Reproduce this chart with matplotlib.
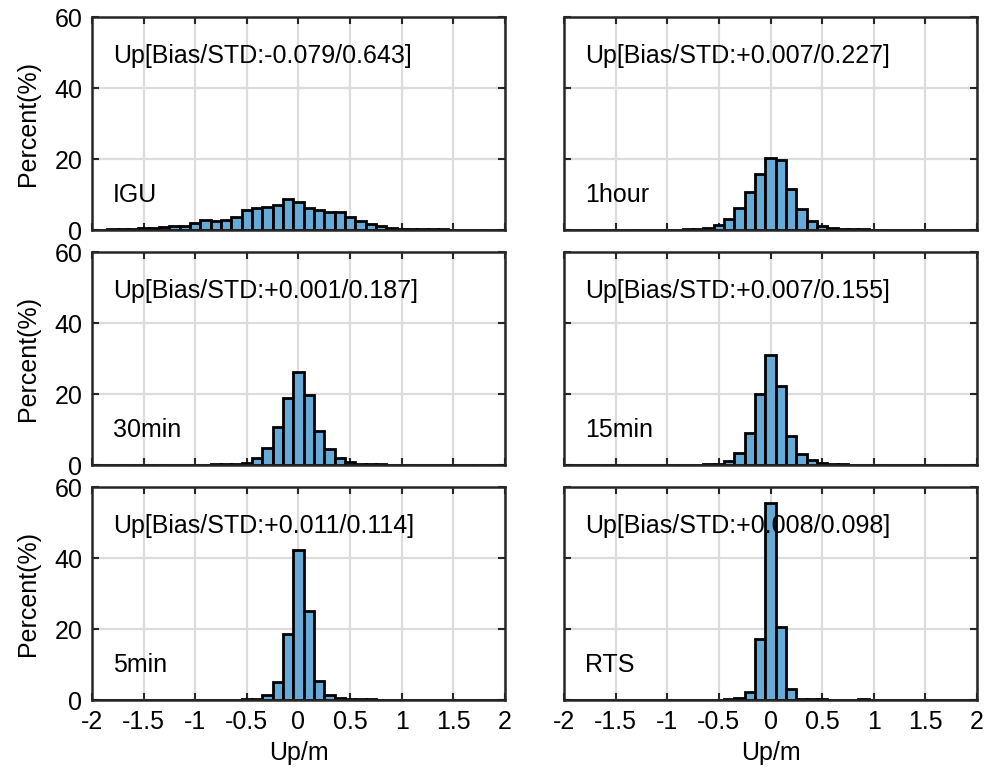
import numpy as np
import matplotlib
matplotlib.use("Agg")
import matplotlib.pyplot as plt

plt.rcParams["font.family"] = ["Liberation Sans", "DejaVu Sans"]
plt.rcParams["axes.unicode_minus"] = False

# bin centres (m), bin width 0.1
bins = [-2.0, -1.9, -1.8, -1.7, -1.6, -1.5, -1.4, -1.3, -1.2, -1.1,
        -1.0, -0.9, -0.8, -0.7, -0.6, -0.5, -0.4, -0.3, -0.2, -0.1,
        0.0, 0.1, 0.2, 0.3, 0.4, 0.5, 0.6, 0.7, 0.8, 0.9,
        1.0, 1.1, 1.2, 1.3, 1.4, 1.5, 1.6, 1.7, 1.8, 1.9, 2.0]

# percent per bin, -2.0 ... 2.0
igu = [0.1, 0.1, 0.2, 0.3, 0.4, 0.5, 0.6, 0.8, 1.0, 1.1,
       1.9, 2.8, 2.4, 2.9, 3.8, 5.6, 6.1, 6.5, 7.1, 8.7,
       7.8, 6.1, 5.6, 5.2, 5.1, 3.6, 2.5, 1.7, 1.0, 0.7,
       0.4, 0.3, 0.25, 0.2, 0.15, 0.1, 0.1, 0.1, 0.1, 0.1, 0.05]
hour1 = [0, 0, 0, 0, 0, 0, 0, 0, 0, 0,
         0, 0.1, 0.2, 0.3, 0.6, 1.4, 3.0, 6.1, 10.8, 15.7,
         20.2, 19.8, 11.5, 5.8, 2.5, 1.1, 0.5, 0.4, 0.3, 0.2,
         0.1, 0, 0, 0, 0, 0, 0, 0, 0, 0, 0]
min30 = [0, 0, 0, 0, 0, 0, 0, 0, 0, 0,
         0.1, 0.1, 0.2, 0.2, 0.3, 0.7, 1.9, 4.7, 10.8, 18.8,
         26.3, 19.6, 9.7, 4.6, 1.9, 0.8, 0.4, 0.3, 0.2, 0.1,
         0, 0, 0, 0, 0, 0, 0, 0, 0, 0, 0]
min15 = [0, 0, 0, 0, 0, 0, 0, 0, 0, 0,
         0, 0, 0.1, 0.1, 0.2, 0.4, 1.2, 3.3, 8.9, 19.9,
         31.0, 22.3, 8.3, 3.0, 1.3, 0.5, 0.3, 0.2, 0.1, 0,
         0, 0, 0, 0, 0, 0, 0, 0, 0, 0, 0]
min5 = [0, 0, 0, 0, 0, 0, 0, 0, 0, 0,
        0, 0, 0, 0, 0.1, 0.2, 0.3, 1.4, 5.0, 18.6,
        42.4, 25.2, 5.3, 1.5, 0.6, 0.4, 0.3, 0.2, 0.1, 0,
        0, 0, 0, 0, 0, 0, 0, 0, 0, 0, 0]
rts = [0, 0, 0, 0, 0, 0, 0, 0, 0, 0,
       0, 0, 0, 0, 0, 0, 0.3, 0.6, 2.3, 17.2,
       55.4, 20.7, 3.0, 0.3, 0.3, 0.2, 0.1, 0.1, 0.1, 0.2,
       0.1, 0, 0, 0, 0, 0, 0, 0, 0, 0, 0]

names = ["IGU", "1hour", "30min", "15min", "5min", "RTS"]
stats = ["-0.079/0.643", "+0.007/0.227", "+0.001/0.187",
         "+0.007/0.155", "+0.011/0.114", "+0.008/0.098"]
series = [igu, hour1, min30, min15, min5, rts]

fig = plt.figure(figsize=(10.03, 7.68), dpi=100)
lefts = [0.0917, 0.5623]
bottoms = [0.7005, 0.3945, 0.0885]
w, h = 0.4118, 0.2773

face = (0.4, 0.668, 0.845)
fs = 18

for i, (name, st, vals) in enumerate(zip(names, stats, series)):
    row, col = divmod(i, 2)
    ax = fig.add_axes([lefts[col], bottoms[row], w, h])
    ax.bar(bins, vals, width=0.1, color=face, edgecolor="black",
           linewidth=2.0, zorder=2)
    ax.set_xlim(-2, 2)
    ax.set_ylim(0, 60)
    ax.set_xticks(np.arange(-2, 2.01, 0.5))
    ax.set_yticks([0, 20, 40, 60])
    ax.grid(True, color="#dcdcdc", linewidth=1.6, zorder=0)
    ax.set_axisbelow(True)
    ax.tick_params(direction="in", top=True, right=True, length=5,
                   width=1.5, labelsize=fs, color="#262626", pad=7)
    for sp in ax.spines.values():
        sp.set_linewidth(1.8)
        sp.set_color("#262626")
    if row == 2:
        ax.set_xticklabels([f"{t:g}" for t in np.arange(-2, 2.01, 0.5)])
        ax.set_xlabel("Up/m", fontsize=fs, labelpad=5)
    else:
        ax.set_xticklabels([])
    if col == 0:
        ax.set_ylabel("Percent(%)", fontsize=fs, labelpad=10)
    else:
        ax.set_yticklabels([])
    ax.text(-1.80, 49, f"Up[Bias/STD:{st}]", fontsize=fs, va="center",
            ha="left", zorder=3)
    ax.text(-1.80, 10, name, fontsize=fs, va="center", ha="left", zorder=3)

fig.savefig("out.png", dpi=100)
